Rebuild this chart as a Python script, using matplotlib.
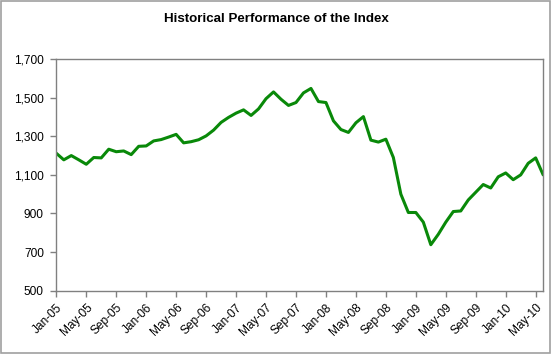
import matplotlib.pyplot as plt
from matplotlib.patches import Rectangle

plt.rcParams['font.family'] = ['Liberation Sans', 'DejaVu Sans']

# monthly index level, Jan-05 .. Jun-10
index_values = [
    1212, 1178, 1200, 1178, 1155, 1190, 1188, 1233, 1220, 1224, 1205, 1248,
    1250, 1276, 1283, 1296, 1310, 1266, 1272, 1282, 1302, 1332, 1372, 1398,
    1420, 1437, 1408, 1442, 1495, 1530, 1492, 1460, 1475, 1525, 1548, 1480,
    1475, 1380, 1335, 1320, 1370, 1402, 1280, 1270, 1285, 1190, 1000, 905,
    905, 855, 738, 792, 855, 910, 913, 970, 1010, 1050, 1032, 1090,
    1110, 1075, 1100, 1160, 1188, 1100,
]
tick_labels = ['Jan-05', 'May-05', 'Sep-05', 'Jan-06', 'May-06', 'Sep-06',
               'Jan-07', 'May-07', 'Sep-07', 'Jan-08', 'May-08', 'Sep-08',
               'Jan-09', 'May-09', 'Sep-09', 'Jan-10', 'May-10']
y_ticks = [500, 700, 900, 1100, 1300, 1500, 1700]

fig = plt.figure(figsize=(5.52, 3.54), dpi=100)
ax = fig.add_axes([0.102, 0.179, 0.882, 0.654])

months = list(range(len(index_values)))
ax.plot(months, index_values, color='#098909', linewidth=2.2,
        solid_joinstyle='round', solid_capstyle='round')

ax.set_xlim(0, len(index_values) - 1)
ax.set_ylim(500, 1700)
ax.set_yticks(y_ticks)
ax.set_yticklabels([f'{v:,}' for v in y_ticks])
ax.set_xticks(range(0, 4 * len(tick_labels), 4))
ax.set_xticklabels(tick_labels, rotation=45, ha='right', rotation_mode='anchor')

for s in ax.spines.values():
    s.set_color('#808080')
    s.set_linewidth(1)
ax.tick_params(axis='both', colors='#808080', labelcolor='black',
               labelsize=8.6, length=4, width=1)
ax.tick_params(axis='y', pad=5)
ax.tick_params(axis='x', pad=4)

fig.suptitle('Historical Performance of the Index', x=0.5, y=0.962,
             fontsize=9.6, fontweight='bold')

# outer chart border
fig.patches.append(Rectangle((0.002, 0.003), 0.995, 0.993, transform=fig.transFigure,
                             fill=False, edgecolor='#a0a0a0', linewidth=1.2))

fig.savefig('out.png', dpi=100)
